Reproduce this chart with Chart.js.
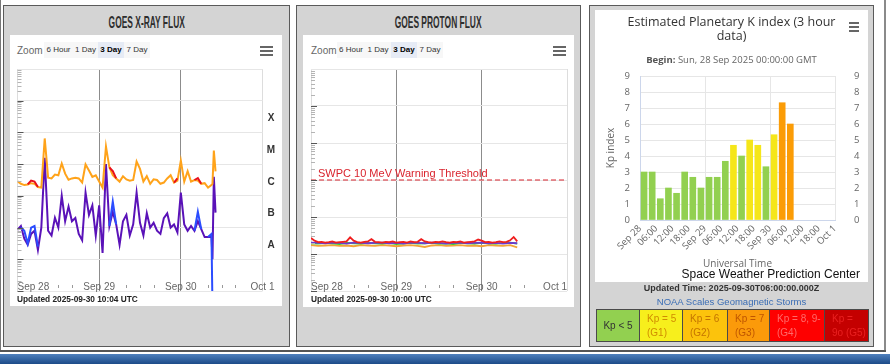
<!DOCTYPE html>
<html>
<head>
<meta charset="utf-8">
<title>Space weather overview</title>
<script src="https://cdn.jsdelivr.net/npm/chart.js@4.4.1/dist/chart.umd.min.js"></script>
<style>
  body { margin: 0; width: 890px; height: 364px; position: relative; overflow: hidden; background: #fff; font-family: "Liberation Sans", Arial, sans-serif; }
  .abs { position: absolute; white-space: nowrap; }
  .panel { position: absolute; top: 5px; height: 342px; background: #d4d4d4; border: 1px solid #5a5a5a; box-sizing: border-box; }
  .box { position: absolute; background: #fff; }
  .goes-title { position: absolute; top: 13px; text-align: center; line-height: 16px; }
  .goes-title span { display: inline-block; font: bold 16.5px "Liberation Sans Narrow", sans-serif; color: #2e2e2e; transform: scaleX(0.51); }
  .zoomlbl { font-size: 10px; color: #666; line-height: 10px; }
  .zbtn { position: absolute; top: 42px; height: 16px; line-height: 15px; background: #f7f7f7; font-size: 8px; color: #333; text-align: center; }
  .zbtn.on { background: #e6ebf5; font-weight: bold; color: #000; }
  .burger { position: absolute; width: 13px; height: 2px; background: #666; box-shadow: 0 4px 0 #666, 0 8px 0 #666; }
  .upd { font: bold 8.3px "Liberation Sans", Arial, sans-serif; color: #222; line-height: 10px; }
  canvas { position: absolute; }
  table.kpleg { position: absolute; left: 596px; top: 309px; border-collapse: collapse; font-size: 10px; }
  table.kpleg td { border: 1px solid #4a4a4a; height: 32px; padding: 0 0 0 7px; line-height: 14px; vertical-align: middle; box-sizing: border-box; }
</style>
</head>
<body>

<!-- outer frame -->
<div class="abs" style="left:0;top:0;width:1px;height:351px;background:#777"></div>
<div class="abs" style="left:884px;top:0;width:2px;height:351px;background:#8a8a8a"></div>
<div class="abs" style="left:0;top:350px;width:886px;height:2px;background:#555"></div>
<div class="abs" style="left:0;top:354px;width:890px;height:10px;background:linear-gradient(#4f80bd,#1c4b88)"></div>

<!-- GOES X-ray -->
<div class="panel" style="left:3px;width:287px"></div>
<div class="goes-title" style="left:3px;width:287px"><span>GOES X-RAY FLUX</span></div>
<div class="box" style="left:10px;top:35px;width:272px;height:271px"></div>
<div class="abs zoomlbl" style="left:17px;top:46px">Zoom</div>
<div class="zbtn" style="left:44px;width:29px">6 Hour</div>
<div class="zbtn" style="left:73px;width:25px">1 Day</div>
<div class="zbtn on" style="left:98px;width:26px">3 Day</div>
<div class="zbtn" style="left:124px;width:26px">7 Day</div>
<div class="burger" style="left:260px;top:46px"></div>
<canvas id="xray" width="272" height="243" style="left:10px;top:62px"></canvas>
<div class="abs upd" style="left:17px;top:294px">Updated 2025-09-30 10:04 UTC</div>

<!-- GOES proton -->
<div class="panel" style="left:296px;width:285px"></div>
<div class="goes-title" style="left:296px;width:285px"><span>GOES PROTON FLUX</span></div>
<div class="box" style="left:303px;top:35px;width:271px;height:272px"></div>
<div class="abs zoomlbl" style="left:311px;top:46px">Zoom</div>
<div class="zbtn" style="left:337px;width:28px">6 Hour</div>
<div class="zbtn" style="left:365px;width:26px">1 Day</div>
<div class="zbtn on" style="left:391px;width:26px">3 Day</div>
<div class="zbtn" style="left:417px;width:26px">7 Day</div>
<div class="burger" style="left:553px;top:46px"></div>
<canvas id="proton" width="271" height="244" style="left:303px;top:62px"></canvas>
<div class="abs upd" style="left:311px;top:294px">Updated 2025-09-30 10:00 UTC</div>

<!-- Kp index -->
<div class="panel" style="left:589px;width:285px"></div>
<div class="box" style="left:595px;top:10px;width:273px;height:272px"></div>
<canvas id="kp" width="273" height="272" style="left:595px;top:10px"></canvas>
<div class="abs" style="left:595px;top:15px;width:273px;text-align:center;font:12.5px 'Open Sans',sans-serif;line-height:14px;color:#333">Estimated Planetary K index (3 hour<br>data)</div>
<div class="burger" style="left:849px;top:22px;width:10px"></div>
<div class="abs" style="left:595px;top:54px;width:273px;text-align:center;font:9.5px 'Open Sans',sans-serif;line-height:12px;color:#666"><b style="color:#555">Begin:</b> Sun, 28 Sep 2025 00:00:00 GMT</div>
<div class="abs" style="left:640px;top:267px;width:220px;text-align:right;font:12px 'Liberation Sans',sans-serif;line-height:14px;color:#111">Space Weather Prediction Center</div>
<div class="abs" style="left:589px;top:282px;width:285px;text-align:center;font:bold 9px 'Liberation Sans',sans-serif;line-height:12px;color:#333">Updated Time: 2025-09-30T06:00:00.000Z</div>
<div class="abs" style="left:589px;top:296px;width:285px;text-align:center;font:9.5px 'Liberation Sans',sans-serif;line-height:12px;color:#3a6db5">NOAA Scales Geomagnetic Storms</div>
<table class="kpleg">
  <tr>
    <td style="width:43px;background:#92d050;color:#333;text-align:center;padding:0">Kp &lt; 5</td>
    <td style="width:43px;background:#f7ef1c;color:#d08c00">Kp = 5<br>(G1)</td>
    <td style="width:45px;background:#fcc30c;color:#c47400">Kp = 6<br>(G2)</td>
    <td style="width:42px;background:#fb9a0a;color:#bf5500">Kp = 7<br>(G3)</td>
    <td style="width:55px;background:#fe0000;color:#ff6a6a">Kp = 8, 9-<br>(G4)</td>
    <td style="width:44px;background:#c40000;color:#ea2020">Kp =<br>9o (G5)</td>
  </tr>
</table>

<script>
// ---- GOES X-ray flux, log10 W/m^2, hours since Sep 28 00:00 UTC ----
const xrayHours = [0, 1, 2, 3, 4, 5, 6, 7, 8, 9, 10, 11, 12, 13, 14, 15, 16, 17, 18, 19,
  20, 21, 22, 23, 24, 25, 26, 27, 28, 29, 30, 31, 32, 33, 34, 35, 36, 37, 38, 39,
  40, 41, 42, 43, 44, 45, 46, 47, 48, 49, 50, 51, 52, 53, 54, 55, 56, 57, 57.3, 57.7, 58.2];
// 0.1-0.8 nm, primary satellite
const xrayLong = [-5.54, -5.62, -5.66, -5.64, -5.60, -5.62, -5.72, -5.74, -4.19, -5.43,
  -5.45, -5.33, -5.35, -4.98, -5.30, -5.49, -5.45, -5.43, -5.45, -5.58,
  -5.01, -5.20, -5.40, -5.35, -5.55, -5.74, -4.44, -5.10, -5.35, -5.45,
  -5.55, -5.38, -5.48, -5.52, -5.50, -4.92, -5.15, -5.55, -5.38, -5.62,
  -5.48, -5.50, -5.62, -5.58, -5.45, -5.35, -5.58, -5.52, -4.89, -5.55,
  -5.22, -5.55, -5.50, -5.52, -5.62, -5.60, -5.74, -5.66, -5.62, -4.57, -5.23];
// 0.1-0.8 nm, secondary satellite (only where it shows)
const xrayLongSec = [null, null, null, -5.64, -5.52, -5.55, -5.72, null, null, null,
  null, null, null, null, null, null, null, null, null, null,
  null, null, null, null, null, null, null, -5.10, -5.22, -5.45,
  null, null, null, null, null, null, null, null, null, null,
  null, null, null, null, null, null, -5.58, -5.45, null, null,
  null, null, -5.50, -5.44, -5.62, null, null, null, null, null, null];
// 0.05-0.4 nm, primary satellite
const xrayShort = [-7.07, -6.95, -7.35, -7.54, -7.20, -7.10, -7.70, -7.00, -4.80, -7.10,
  -7.25, -6.69, -7.00, -6.00, -6.80, -6.34, -6.80, -6.70, -7.20, -7.40,
  -5.90, -6.60, -6.30, -7.25, -6.30, -7.80, -5.00, -6.95, -6.50, -6.90,
  -7.54, -6.80, -6.60, -7.25, -6.90, -5.90, -6.85, -7.25, -6.55, -7.00,
  -6.85, -7.10, -7.20, -6.70, -6.55, -7.00, -6.90, -7.15, -5.90, -6.90,
  -7.10, -6.95, -7.10, -6.80, -7.05, -7.30, -7.30, -7.25, -8.00, -5.40, -6.53];
// 0.05-0.4 nm, secondary satellite (only where it shows)
const xrayShortSec = [null, -7.00, -7.10, -7.50, -7.00, -6.95, -7.60, null, null, null,
  null, null, null, null, null, null, null, null, null, null,
  null, null, null, null, null, null, null, -6.95, -6.18, -6.90,
  null, null, null, null, null, null, null, null, null, null,
  null, null, null, null, null, null, null, null, null, null,
  null, null, -7.10, -6.50, -7.05, null, -7.30, -7.20, -9.50, null, null];
const xrayDecades = [1e-9, 1e-8, 1e-7, 1e-6, 1e-5, 1e-4, 1e-3, 1e-2];
const flareClasses = ['X', 'M', 'C', 'B', 'A'];
const flareFloors = [1e-4, 1e-5, 1e-6, 1e-7, 1e-8];

// ---- GOES proton flux, log10 pfu ----
const protonHours1 = [0, 1, 2, 3, 4, 5, 6, 7, 8, 9, 10, 11, 12, 13, 14, 15, 16, 17, 18, 19,
  20, 21, 22, 23, 24, 25, 26, 27, 28, 29, 30, 31, 32, 33, 34, 35, 36, 37, 38, 39,
  40, 41, 42, 43, 44, 45, 46, 47, 48, 49, 50, 51, 52, 53, 54, 55, 56, 57, 58];
const protonHours2 = [0, 2, 4, 6, 8, 10, 12, 14, 16, 18, 20, 22, 24, 26, 28,
  30, 32, 34, 36, 38, 40, 42, 44, 46, 48, 50, 52, 54, 56, 58];
const proton10 = [-0.57, -0.64, -0.68, -0.67, -0.69, -0.68, -0.66, -0.69, -0.68, -0.67,
  -0.66, -0.55, -0.64, -0.68, -0.69, -0.67, -0.66, -0.60, -0.67, -0.68,
  -0.69, -0.67, -0.68, -0.66, -0.69, -0.68, -0.67, -0.69, -0.66, -0.68,
  -0.67, -0.60, -0.66, -0.68, -0.69, -0.67, -0.68, -0.66, -0.68, -0.69,
  -0.67, -0.68, -0.66, -0.69, -0.68, -0.67, -0.66, -0.61, -0.64, -0.68,
  -0.67, -0.69, -0.68, -0.66, -0.68, -0.67, -0.63, -0.54, -0.66];
const proton50 = [-0.69, -0.70, -0.71, -0.69, -0.70, -0.72, -0.69, -0.70, -0.71, -0.70,
  -0.69, -0.71, -0.70, -0.72, -0.69, -0.70, -0.71, -0.69, -0.70, -0.72,
  -0.70, -0.69, -0.71, -0.70, -0.69, -0.71, -0.70, -0.72, -0.70, -0.71];
const proton100 = [-0.71, -0.72, -0.70, -0.71, -0.73, -0.70, -0.71, -0.72, -0.70, -0.71,
  -0.72, -0.70, -0.73, -0.71, -0.70, -0.72, -0.71, -0.70, -0.72, -0.71,
  -0.73, -0.70, -0.71, -0.72, -0.70, -0.71, -0.72, -0.70, -0.69, -0.72];
const proton500 = [-0.76, -0.78, -0.77, -0.76, -0.78, -0.77, -0.79, -0.76, -0.77, -0.78,
  -0.76, -0.77, -0.79, -0.77, -0.76, -0.78, -0.81, -0.77, -0.76, -0.78,
  -0.77, -0.76, -0.78, -0.77, -0.79, -0.76, -0.77, -0.78, -0.76, -0.82];
const protonDecades = [1e-2, 1e-1, 1, 10, 100, 1e3, 1e4];
const protonThreshold = 10;

const dayHours = [0, 24, 48, 72];
const dayLabels = ['Sep 28', 'Sep 29', 'Sep 30', 'Oct 1'];

// ---- Kp index, 3 hour bins (mid points) ----
const kpHours = [1.5, 4.5, 7.5, 10.5, 13.5, 16.5, 19.5, 22.5, 25.5, 28.5,
  31.5, 34.5, 37.5, 40.5, 43.5, 46.5, 49.5, 52.5, 55.5];
const kpValues = [3.00, 3.00, 1.33, 2.00, 1.67, 3.00, 2.67, 2.00, 2.67, 2.67,
  3.67, 4.67, 4.00, 5.00, 4.67, 3.33, 5.33, 7.33, 6.00];
const kpTickHours = [0, 6, 12, 18, 24, 30, 36, 42, 48, 54, 60, 66, 72];
const kpTickLabels = ['Sep 28', '06:00', '12:00', '18:00', 'Sep 29', '06:00', '12:00',
  '18:00', 'Sep 30', '06:00', '12:00', '18:00', 'Oct 1'];

function pts(hours, logs) {
  return hours.map((h, i) => ({ x: h, y: logs[i] == null ? null : Math.pow(10, logs[i]) }));
}

function kpColor(v) {
  if (v < 4.5) return '#92d050';
  if (v < 5.5) return '#f5e61a';
  return '#fb9c06';
}

// day labels, minor ticks and class letters for the GOES plots
const goesAxes = {
  id: 'goesAxes',
  afterDraw(chart, args, opts) {
    const { ctx, chartArea: a } = chart;
    const x = chart.scales.x, y = chart.scales.y;
    ctx.save();
    ctx.lineWidth = 1;
    for (let e = opts.expRange[0]; e < opts.expRange[1]; e++) {
      for (let k = 1; k <= 9; k++) {
        const py = Math.round(y.getPixelForValue(k * Math.pow(10, e))) + 0.5;
        ctx.strokeStyle = k === 1 ? '#555' : '#b4b4b4';
        ctx.beginPath();
        ctx.moveTo(a.left, py);
        ctx.lineTo(a.left + (k === 1 ? 6 : 4), py);
        ctx.stroke();
      }
    }

    ctx.font = '10px "Liberation Sans", Arial, sans-serif';
    ctx.fillStyle = '#666';
    ctx.textBaseline = 'middle';
    ctx.textAlign = 'left';
    const spans = [];
    dayHours.forEach((h, i) => {
      const px = x.getPixelForValue(h);
      const w = ctx.measureText(dayLabels[i]).width;
      let left = px - w / 2;
      if (i === 0) left = px;
      if (i === dayHours.length - 1 && opts.lastAlign === 'right') left = px - w;
      ctx.fillText(dayLabels[i], left, a.bottom - 4);
      spans.push([left - 8, left + w + 8]);
    });
    ctx.strokeStyle = '#999';
    for (let h = 4; h < 72; h += 4) {
      const px = Math.round(x.getPixelForValue(h)) + 0.5;
      if (spans.some(s => px > s[0] && px < s[1])) continue;
      ctx.beginPath();
      ctx.moveTo(px, a.bottom - 6);
      ctx.lineTo(px, a.bottom - 3);
      ctx.stroke();
    }

    if (opts.letters) {
      ctx.font = 'bold 10px "Liberation Sans", Arial, sans-serif';
      ctx.fillStyle = '#333';
      ctx.textAlign = 'center';
      flareClasses.forEach((c, i) => {
        ctx.fillText(c, a.right + 8.5, y.getPixelForValue(flareFloors[i] * Math.sqrt(10)) + 2);
      });
    }
    if (opts.threshold) {
      ctx.font = '11px "Liberation Sans", Arial, sans-serif';
      ctx.fillStyle = '#d9232d';
      ctx.textAlign = 'left';
      ctx.fillText('SWPC 10 MeV Warning Threshold', a.left + 7, y.getPixelForValue(protonThreshold) - 6);
    }
    ctx.restore();
  }
};

function goesScales(decades) {
  return {
    x: {
      type: 'linear', min: 0, max: 72,
      afterBuildTicks: s => { s.ticks = dayHours.map(v => ({ value: v })); },
      ticks: { display: false },
      border: { display: false },
      grid: { drawTicks: false, color: c => (c.tick && c.tick.value % 72 !== 0 ? '#8c8c8c' : '#dddddd') }
    },
    y: {
      type: 'logarithmic', min: decades[0], max: decades[decades.length - 1],
      afterBuildTicks: s => { s.ticks = decades.map(v => ({ value: v })); },
      ticks: { display: false },
      border: { display: false },
      grid: { drawTicks: false, color: '#e6e6e6' }
    }
  };
}

new Chart(document.getElementById('xray'), {
  type: 'line',
  data: {
    datasets: [
      { label: 'Long (secondary)', data: pts(xrayHours, xrayLongSec), borderColor: '#e8101c' },
      { label: 'Short (secondary)', data: pts(xrayHours, xrayShortSec), borderColor: '#2b4dff' },
      { label: 'Long 0.1-0.8 nm', data: pts(xrayHours, xrayLong), borderColor: '#ffa31a' },
      { label: 'Short 0.05-0.4 nm', data: pts(xrayHours, xrayShort), borderColor: '#5a12b8' }
    ]
  },
  options: {
    animation: false,
    responsive: false,
    layout: { padding: { left: 7.5, right: 19.5, top: 7, bottom: 14 } },
    elements: { point: { radius: 0 }, line: { borderWidth: 2, tension: 0 } },
    plugins: {
      legend: { display: false },
      tooltip: { enabled: false },
      goesAxes: { expRange: [-9, -2], letters: true, lastAlign: 'center' }
    },
    scales: goesScales(xrayDecades)
  },
  plugins: [goesAxes]
});

new Chart(document.getElementById('proton'), {
  type: 'line',
  data: {
    datasets: [
      { label: 'Threshold', data: [{ x: 0, y: protonThreshold }, { x: 72, y: protonThreshold }], borderColor: '#d9232d', borderWidth: 1, borderDash: [5, 3] },
      { label: '>=10 MeV', data: pts(protonHours1, proton10), borderColor: '#f01e1e' },
      { label: '>=50 MeV', data: pts(protonHours2, proton50), borderColor: '#6a3bd0' },
      { label: '>=100 MeV', data: pts(protonHours2, proton100), borderColor: '#3ccf2e' },
      { label: '>=500 MeV', data: pts(protonHours2, proton500), borderColor: '#f2a437' }
    ]
  },
  options: {
    animation: false,
    responsive: false,
    layout: { padding: { left: 8, right: 7, top: 7, bottom: 15 } },
    elements: { point: { radius: 0 }, line: { borderWidth: 1.8, tension: 0 } },
    plugins: {
      legend: { display: false },
      tooltip: { enabled: false },
      goesAxes: { expRange: [-2, 4], threshold: true, lastAlign: 'right' }
    },
    scales: goesScales(protonDecades)
  },
  plugins: [goesAxes]
});

new Chart(document.getElementById('kp'), {
  type: 'bar',
  data: {
    datasets: [{
      label: 'Kp',
      data: kpHours.map((h, i) => ({ x: h, y: kpValues[i] })),
      backgroundColor: kpValues.map(kpColor),
      borderWidth: 0,
      barThickness: 6
    }]
  },
  options: {
    animation: false,
    responsive: false,
    layout: { padding: { top: 66 } },
    plugins: { legend: { display: false }, tooltip: { enabled: false } },
    scales: {
      x: {
        type: 'linear', min: 0, max: 72, offset: false,
        afterBuildTicks: s => { s.ticks = kpTickHours.map(v => ({ value: v })); },
        afterFit: s => { s.height = 62; },
        ticks: {
          autoSkip: false, minRotation: 45, maxRotation: 45, padding: 3,
          color: '#666', font: { family: '"Open Sans", sans-serif', size: 9.5 },
          callback: (v, i) => kpTickLabels[i]
        },
        grid: { offset: false, drawTicks: false, color: c => (c.tick && c.tick.value % 24 === 0 ? '#e6e6e6' : 'rgba(0,0,0,0)') },
        border: { color: '#ccd6eb' },
        title: { display: true, text: 'Universal Time', color: '#666', font: { family: '"Open Sans", sans-serif', size: 10 }, padding: { top: 0, bottom: 12 } }
      },
      y: {
        min: 0, max: 9,
        afterFit: s => { s.width = 45; },
        ticks: { stepSize: 1, padding: 10, color: '#666', font: { family: '"Open Sans", sans-serif', size: 9.5 } },
        grid: { drawTicks: false, color: '#e6e6e6' },
        border: { color: '#ccd6eb' },
        title: { display: true, text: 'Kp index', color: '#666', font: { family: '"Open Sans", sans-serif', size: 10 }, padding: { top: 10, bottom: 0 } }
      },
      y2: {
        position: 'right', min: 0, max: 9,
        afterFit: s => { s.width = 33; },
        ticks: { stepSize: 1, padding: 19, color: '#666', font: { family: '"Open Sans", sans-serif', size: 9.5 } },
        grid: { drawOnChartArea: false, drawTicks: false },
        border: { display: false }
      }
    }
  }
});
</script>
</body>
</html>
